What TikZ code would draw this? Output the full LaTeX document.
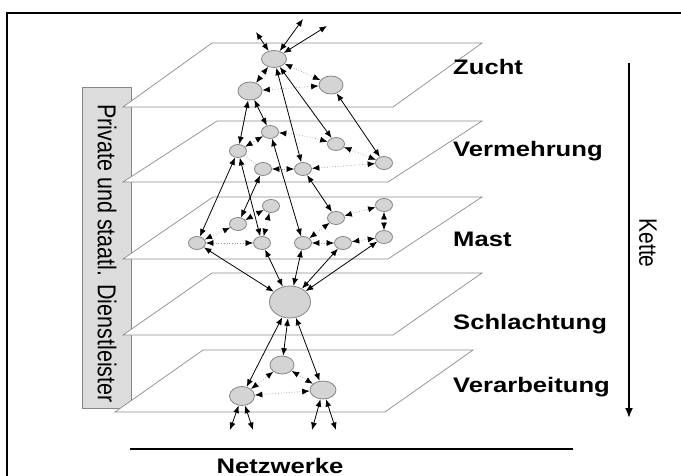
\documentclass[tikz,border=0pt]{standalone}
\usepackage{fontspec}
\setmainfont{Liberation Sans}
\usetikzlibrary{arrows.meta,shapes.geometric}
\definecolor{nodefill}{HTML}{D4D4D4}
\definecolor{nodeline}{HTML}{858585}
\definecolor{planeline}{HTML}{8C8C8C}
\definecolor{boxfill}{HTML}{DCDCDC}
\begin{document}
\begin{tikzpicture}[x=1pt,y=-1pt,
  knot/.style={ellipse,draw=nodeline,fill=nodefill,line width=0.8pt,inner sep=0pt},
  sknot/.style={knot,minimum width=17pt,minimum height=13pt},
  mknot/.style={knot,minimum width=24pt,minimum height=18pt},
  plane/.style={draw=planeline,line width=0.7pt,fill=white},
  sa/.style={draw=black,line width=0.8pt,{Latex[length=7.5pt,width=6pt]}-{Latex[length=7.5pt,width=6pt]}},
  da/.style={draw=gray!80,dotted,line width=0.7pt,{Latex[length=7.5pt,width=6pt,color=black]}-{Latex[length=7.5pt,width=6pt,color=black]}},
  dl/.style={draw=gray!80,dotted,line width=0.7pt},
  lvl/.style={anchor=base west,inner sep=0pt,font=\bfseries\fontsize{21}{21}\selectfont},
]
\useasboundingbox (0,0) rectangle (681,476);
% outer frame
\draw[line width=2.8pt] (7,476) -- (7,13) -- (681,13);
% side box
\node[draw=nodeline,fill=boxfill,line width=0.9pt,minimum width=49pt,minimum height=321pt,inner sep=0pt] (box) at (106.5,247.5) {};
\node[rotate=-90,inner sep=0pt,font=\fontsize{21.5}{21.5}\selectfont] (boxtxt) at (107,253.5) {\scalebox{1}[1.2]{Private und staatl. Dienstleister}};
% planes
\draw[plane] (212,43) -- (482,43) -- (393,107) -- (123,107) -- cycle;
\draw[plane] (217,121) -- (482,121) -- (388,182) -- (123,182) -- cycle;
\draw[plane] (213,197) -- (482,197) -- (388,259) -- (123,259) -- cycle;
\draw[plane] (212,273) -- (482,273) -- (393,335) -- (123,335) -- cycle;
\draw[plane] (203,350) -- (473,350) -- (385,412) -- (115,412) -- cycle;
% level labels
\node[lvl] (l1) at (453,75) {\scalebox{1.22}[1]{Zucht}};
\node[lvl] (l2) at (453,157) {\scalebox{1.22}[1]{Vermehrung}};
\node[lvl] (l3) at (453,247) {\scalebox{1.22}[1]{Mast}};
\node[lvl] (l4) at (453,330) {\scalebox{1.22}[1]{Schlachtung}};
\node[lvl] (l5) at (453,392) {\scalebox{1.22}[1]{Verarbeitung}};
% Kette
\coordinate (k1) at (629,63);
\coordinate (k2) at (629,418);
\draw[line width=1.8pt,-{Latex[length=10pt,width=8pt]}] (k1) -- (k2);
\node[rotate=-90,inner sep=0pt,font=\fontsize{21}{21}\selectfont] (kette) at (648,243) {\scalebox{1}[1.2]{Kette}};
% Netzwerke
\coordinate (n1) at (130,449);
\coordinate (n2) at (573,449);
\draw[line width=2.8pt] (n1) -- (n2);
\node[anchor=base,inner sep=0pt,font=\bfseries\fontsize{21}{21}\selectfont] (netz) at (280,473) {\scalebox{1.22}[1]{Netzwerke}};
% nodes
\node[mknot,minimum width=25pt,minimum height=17pt] (A1) at (274,59) {};
\node[mknot] (A2) at (250,91) {};
\node[mknot] (A3) at (331,85) {};
\node[sknot] (B1) at (270,132) {};
\node[sknot] (B2) at (238,151) {};
\node[sknot] (B3) at (336,144) {};
\node[sknot] (B4) at (263,169) {};
\node[sknot] (B5) at (303,169) {};
\node[sknot] (B6) at (384,163) {};
\node[sknot] (C1) at (238,224) {};
\node[sknot] (C2) at (271,206) {};
\node[sknot] (C3) at (197,243) {};
\node[sknot] (C4) at (262,243) {};
\node[sknot] (C5) at (303,243) {};
\node[sknot] (C6) at (336,218) {};
\node[sknot] (C7) at (343,243) {};
\node[sknot] (C8) at (384,205) {};
\node[sknot] (C9) at (384,237) {};
\node[knot,minimum width=41pt,minimum height=32pt] (D) at (290,302) {};
\node[mknot] (E1) at (282,365) {};
\node[mknot,minimum width=25pt,minimum height=19pt] (E2) at (242,396) {};
\node[mknot,minimum width=26pt] (E3) at (323,390) {};
% free ends
\coordinate (t1) at (256,32);
\coordinate (t2) at (303,19);
\coordinate (t3) at (327,26);
\coordinate (u1) at (230,430);
\coordinate (u2) at (253,430);
\coordinate (u3) at (312,430);
\coordinate (u4) at (336,430);
% dotted links
\draw[da] (A1) -- (A2);
\draw[da] (A1) -- (A3);
\draw[da] (A2) -- (A3);
\draw[da] (B2) -- (B1);
\draw[da] (B1) to[bend left=5] (B3);
\draw[dl] (B2) -- (B4);
\draw[da] (B4) -- (B5);
\draw[da] (B5) -- (B6);
\draw[da] (B3) -- (B6);
\draw[da] (C1) -- (C2);
\draw[da] (C1) -- (C3);
\draw[da] (C3) -- (C4);
\draw[da] (C2) -- (C4);
\draw[da] (C6) -- (C5);
\draw[da] (C6) -- (C8);
\draw[da] (C8) -- (C9);
\draw[da] (C9) -- (C7);
\draw[da] (C7) -- (C5);
\draw[da] (E1) -- (E2);
\draw[da] (E1) -- (E3);
\draw[da] (E2) -- (E3);
% solid links
\draw[sa] (A1) -- (t1);
\draw[sa] (A1) -- (t2);
\draw[sa] (A1) -- (t3);
\draw[sa] (A2) -- (B2);
\draw[sa] (A2) -- (B1);
\draw[sa] (A1) -- (B5);
\draw[sa] (A1) -- (B3);
\draw[sa] (A3) -- (B6);
\draw[sa] (B1) -- (C5);
\draw[sa] (B2) -- (C3);
\draw[sa] (B2) -- (C4);
\draw[sa] (B4) -- (C1);
\draw[sa] (B5) -- (C6);
\draw[sa] (C3) -- (D);
\draw[sa] (C4) -- (D);
\draw[sa] (C5) -- (D);
\draw[sa] (C7) -- (D);
\draw[sa] (C9) -- (D);
\draw[sa] (D) -- (E1);
\draw[sa] (D) -- (E2);
\draw[sa] (D) -- (E3);
\draw[sa] (E2) -- (u1);
\draw[sa] (E2) -- (u2);
\draw[sa] (E3) -- (u3);
\draw[sa] (E3) -- (u4);
\end{tikzpicture}
\end{document}
